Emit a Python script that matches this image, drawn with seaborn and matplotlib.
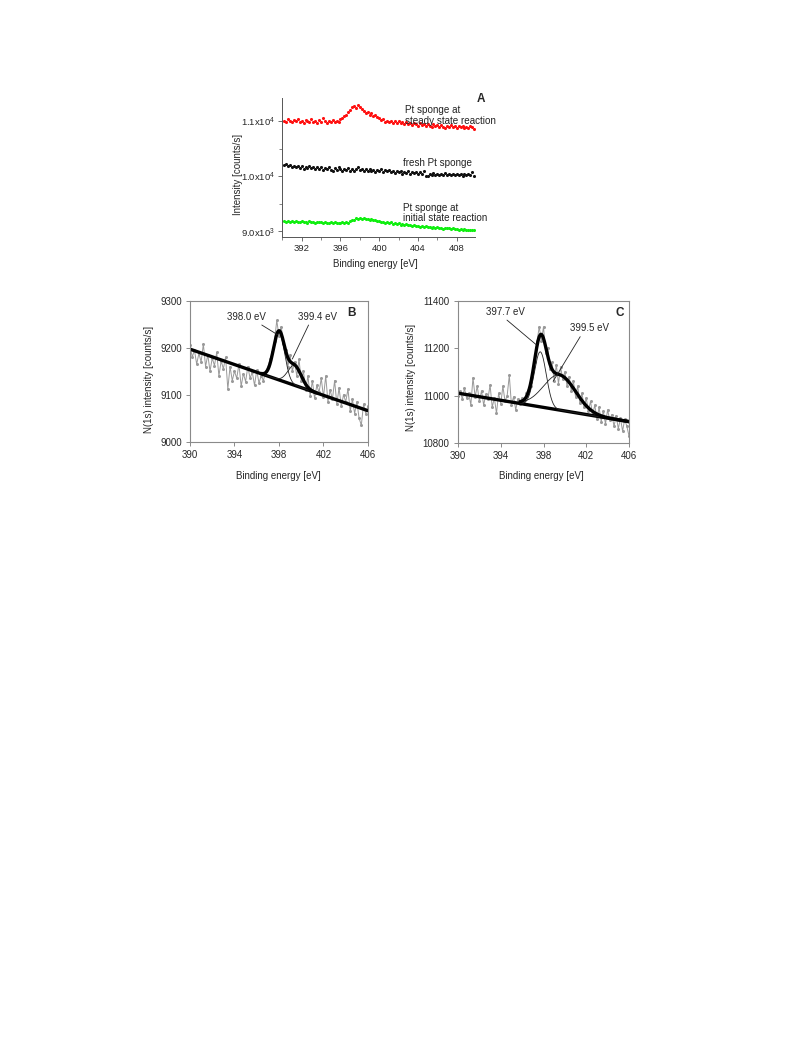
import numpy as np
import pandas as pd
import matplotlib
matplotlib.use("Agg")
import matplotlib.pyplot as plt
import seaborn as sns
from matplotlib.ticker import FixedLocator

sns.set_theme(style="ticks")
plt.rcParams["font.family"] = ["Liberation Sans", "DejaVu Sans"]
plt.rcParams["mathtext.fontset"] = "custom"
plt.rcParams["mathtext.rm"] = "Liberation Sans"
plt.rcParams["mathtext.it"] = "Liberation Sans:italic"

# ---------------- Panel A data (step 0.2 eV from 390.2 eV) ----------------
a_start, a_step = 390.2, 0.2
a_steady = [11010, 10990, 11030, 11000, 10980, 11020, 10995, 11040, 10985, 11010,
            10970, 11025, 11000, 10990, 11035, 10980, 11005, 10975, 11015, 10990,
            11060, 10995, 10975, 11010, 10985, 11020, 10990, 11005, 10980, 11030,
            11060, 11095, 11120, 11170, 11200, 11250, 11280, 11240, 11300, 11260,
            11220, 11190, 11150, 11170, 11120, 11140, 11090, 11110, 11070, 11060,
            11020, 11040, 10990, 11010, 10985, 11000, 10960, 10995, 10970, 11005,
            10960, 10985, 10950, 10990, 10945, 10975, 10930, 10965, 10940, 10920,
            10960, 10930, 10955, 10910, 10945, 10920, 10890, 10940, 10905, 10930,
            10895, 10925, 10900, 10880, 10920, 10895, 10935, 10890, 10910, 10875,
            10905, 10890, 10920, 10880, 10900, 10870, 10910, 10885, 10860]
a_fresh = [10200, 10230, 10180, 10210, 10170, 10195, 10160, 10190, 10150, 10180,
           10140, 10175, 10150, 10190, 10145, 10165, 10130, 10170, 10125, 10160,
           10110, 10150, 10135, 10170, 10120, 10090, 10145, 10110, 10160, 10125,
           10100, 10140, 10115, 10150, 10105, 10135, 10095, 10130, 10170, 10110,
           10140, 10100, 10125, 10090, 10130, 10100, 10120, 10085, 10115, 10095,
           10125, 10080, 10110, 10090, 10120, 10075, 10100, 10060, 10095, 10070,
           10100, 10050, 10085, 10060, 10090, 10045, 10075, 10055, 10080, 10040,
           10070, 10050, 10090, 10010, 10000, 10050, 10025, 10060, 10030, 10050,
           10020, 10045, 10025, 10055, 10030, 10045, 10015, 10040, 10025, 10050,
           10020, 10035, 10010, 10040, 10025, 10045, 10015, 10080, 10010]
a_initial = [9185, 9170, 9190, 9175, 9195, 9170, 9185, 9165, 9180, 9190,
             9170, 9180, 9160, 9185, 9170, 9175, 9155, 9180, 9165, 9170,
             9150, 9175, 9160, 9145, 9165, 9150, 9170, 9145, 9160, 9150,
             9165, 9150, 9170, 9160, 9185, 9200, 9215, 9240, 9225, 9250,
             9235, 9245, 9225, 9230, 9210, 9220, 9200, 9205, 9185, 9195,
             9175, 9180, 9160, 9170, 9150, 9165, 9140, 9150, 9130, 9145,
             9125, 9135, 9115, 9130, 9110, 9120, 9100, 9115, 9095, 9105,
             9090, 9100, 9080, 9095, 9075, 9090, 9070, 9080, 9065, 9075,
             9060, 9070, 9050, 9065, 9055, 9060, 9045, 9055, 9040, 9050,
             9035, 9045, 9030, 9040, 9025, 9035, 9020, 9030, 9020]
a_labels = ["Pt sponge at\nsteady state reaction", "fresh Pt sponge",
            "Pt sponge at\ninitial state reaction"]
a_colors = ["#ff1010", "#111111", "#10ee10"]
a_yticks = [9000, 10000, 11000]
a_yticklabels = [r"9.0x10$^3$", r"1.0x10$^4$", r"1.1x10$^4$"]
a_xticks = [392, 396, 400, 404, 408]

# ---------------- Panel B data (step 0.2 eV from 390.0 eV) ----------------
b_start, b_step = 390.0, 0.2
b_counts = [9205, 9180, 9195, 9165, 9188, 9170, 9208, 9160, 9185, 9150,
            9178, 9162, 9190, 9140, 9172, 9155, 9180, 9112, 9160, 9130,
            9150, 9135, 9165, 9118, 9145, 9128, 9160, 9135, 9148, 9120,
            9152, 9125, 9140, 9130, 9150, 9160, 9175, 9190, 9215, 9258,
            9225, 9245, 9210, 9195, 9160, 9185, 9150, 9170, 9140, 9175,
            9130, 9150, 9110, 9140, 9098, 9130, 9092, 9120, 9105, 9135,
            9095, 9140, 9085, 9110, 9090, 9130, 9080, 9115, 9075, 9100,
            9085, 9112, 9065, 9090, 9060, 9085, 9050, 9035, 9080, 9060,
            9075, 9058]
b_bg_x = [390.0, 406.0]
b_bg_y = [9197, 9066]
b_centers = [398.0, 399.4]
b_heights = [102, 42]
b_sigmas = [0.5, 0.6]
b_fit_range = [396.4, 401.4]
b_peak_labels = ["398.0 eV", "399.4 eV"]

# ---------------- Panel C data (step 0.2 eV from 390.0 eV) ----------------
c_start, c_step = 390.0, 0.2
c_counts = [11000, 11020, 10985, 11030, 10990, 11010, 10960, 11075, 10995, 11040,
            10975, 11020, 10960, 11005, 10985, 11045, 10950, 10990, 10925, 11010,
            10965, 11040, 10975, 11000, 11085, 10960, 10995, 10940, 10985, 10965,
            10990, 10975, 11010, 11030, 11040, 11120, 11140, 11230, 11290, 11230,
            11290, 11180, 11200, 11110, 11140, 11060, 11130, 11050, 11120, 11070,
            11100, 11040, 11080, 11020, 11060, 10995, 11040, 10970, 11010, 10950,
            10990, 10935, 10975, 10920, 10960, 10900, 10950, 10890, 10935, 10880,
            10940, 10895, 10920, 10870, 10915, 10860, 10905, 10850, 10900, 10870,
            10830]
c_bg_x = [390.0, 406.0]
c_bg_y = [11010, 10890]
c_centers = [397.7, 399.5]
c_heights = [232, 148]
c_sigmas = [0.56, 1.5]
c_fit_range = [395.8, 406.0]
c_peak_labels = ["397.7 eV", "399.5 eV"]

FS = 7.0
fig = plt.figure(figsize=(7.89, 10.59), dpi=100)

# ================= Panel A =================
axA = fig.add_axes([0.3578, 0.7762, 0.2444, 0.1313])
for vals, col in zip([a_steady, a_fresh, a_initial], a_colors):
    x = a_start + a_step * np.arange(len(vals))
    df = pd.DataFrame({"E": x, "I": vals})
    sns.scatterplot(data=df, x="E", y="I", color=col, s=5, linewidth=0,
                    marker="o", ax=axA, legend=False)
axA.set_xlim(390, 409.9)
axA.set_ylim(8900, 11420)
axA.set_xticks(a_xticks)
axA.xaxis.set_minor_locator(FixedLocator([390, 394, 398, 402, 406]))
axA.set_yticks(a_yticks)
axA.set_yticklabels(a_yticklabels)
axA.yaxis.set_minor_locator(FixedLocator([9500, 10500]))
for s in ["top", "right"]:
    axA.spines[s].set_visible(False)
for s in ["left", "bottom"]:
    axA.spines[s].set_color("#555555")
    axA.spines[s].set_linewidth(0.7)
axA.tick_params(which="major", length=3, width=0.6, color="#555555",
                labelsize=FS - 0.2, pad=2, direction="out")
axA.tick_params(which="minor", length=2, width=0.5, color="#555555", direction="out")
axA.set_xlabel("Binding energy [eV]", fontsize=FS)
axA.set_ylabel("Intensity [counts/s]", fontsize=FS)
axA.xaxis.set_label_coords(0.485, -0.16)
axA.yaxis.set_label_coords(-0.206, 0.45)
axA.text(402.66, 11103, a_labels[0], fontsize=FS + 0.1, ha="left", va="center",
         linespacing=1.05, color="#222222")
axA.text(402.46, 10241, a_labels[1], fontsize=FS + 0.1, ha="left", va="center",
         color="#222222")
axA.text(402.46, 9335, a_labels[2], fontsize=FS + 0.1, ha="left", va="center",
         linespacing=1.05, color="#222222")
fig.text(0.6096, 0.9065, "A", fontsize=8.5, fontweight="bold", ha="center", va="center")


def xps_panel(ax, start, step, counts, bg_x, bg_y, centers, heights, sigmas,
              fit_range, ylim, yticks, label, peak_labels, annots, letter_pos):
    x = start + step * np.arange(len(counts))
    df = pd.DataFrame({"E": x, "I": counts})
    sns.lineplot(data=df, x="E", y="I", color="#999999", lw=0.7, marker="o",
                 markersize=2.2, markeredgewidth=0, sort=False, estimator=None,
                 ax=ax, legend=False)
    bgdf = pd.DataFrame({"E": bg_x, "I": bg_y})
    sns.lineplot(data=bgdf, x="E", y="I", color="black", lw=2.4, ax=ax,
                 estimator=None, sort=False, legend=False)
    ef = np.linspace(fit_range[0], fit_range[1], 300)
    bg = np.interp(ef, bg_x, bg_y)
    comps = [h * np.exp(-(ef - c) ** 2 / (2 * s ** 2))
             for c, h, s in zip(centers, heights, sigmas)]
    for comp in comps:
        ax.plot(ef, bg + comp, color="#222222", lw=0.6)
    env = bg + sum(comps)
    sns.lineplot(x=ef, y=env, color="black", lw=2.4, ax=ax, estimator=None,
                 sort=False, legend=False)
    ax.set_xlim(390, 406)
    ax.set_ylim(*ylim)
    ax.set_xticks([390, 394, 398, 402, 406])
    ax.set_yticks(yticks)
    for s in ax.spines.values():
        s.set_color("#8a8a8a")
        s.set_linewidth(0.8)
    ax.tick_params(length=3, width=0.6, color="#777777", labelsize=FS,
                   pad=3, direction="out")
    ax.set_xlabel("Binding energy [eV]", fontsize=FS)
    ax.set_ylabel("N(1s) intensity [counts/s]", fontsize=FS)
    for txt, (xy, xyt, rel) in zip(peak_labels, annots):
        ax.annotate(txt, xy=xy, xytext=xyt, fontsize=FS, ha="center",
                    va="center",
                    arrowprops=dict(arrowstyle="-", lw=0.6, color="#222222",
                                    shrinkA=0, shrinkB=0, relpos=rel))
    ax.text(letter_pos[0], letter_pos[1], label, transform=ax.transAxes,
            fontsize=8.5, fontweight="bold", ha="center", va="center")


axB = fig.add_axes([0.2408, 0.5829, 0.2256, 0.1331])
xps_panel(axB, b_start, b_step, b_counts, b_bg_x, b_bg_y, b_centers, b_heights,
          b_sigmas, b_fit_range, (9000, 9300), [9000, 9100, 9200, 9300], "B",
          b_peak_labels,
          [((397.85, 9228), (395.1, 9266), (0.75, 0.0)),
           ((399.2, 9176), (401.5, 9266), (0.3, 0.0))],
          (0.91, 0.913))
axB.xaxis.set_label_coords(0.496, -0.205)
axB.yaxis.set_label_coords(-0.20, 0.44)

axC = fig.add_axes([0.5805, 0.5817, 0.2167, 0.1344])
xps_panel(axC, c_start, c_step, c_counts, c_bg_x, c_bg_y, c_centers, c_heights,
          c_sigmas, c_fit_range, (10800, 11400), [10800, 11000, 11200, 11400], "C",
          c_peak_labels,
          [((397.3, 11215), (394.4, 11353), (0.45, 0.0)),
           ((398.9, 11060), (402.35, 11283), (0.3, 0.0))],
          (0.947, 0.914))
axC.xaxis.set_label_coords(0.49, -0.195)
axC.yaxis.set_label_coords(-0.245, 0.46)

fig.savefig("out.png", dpi=100)
